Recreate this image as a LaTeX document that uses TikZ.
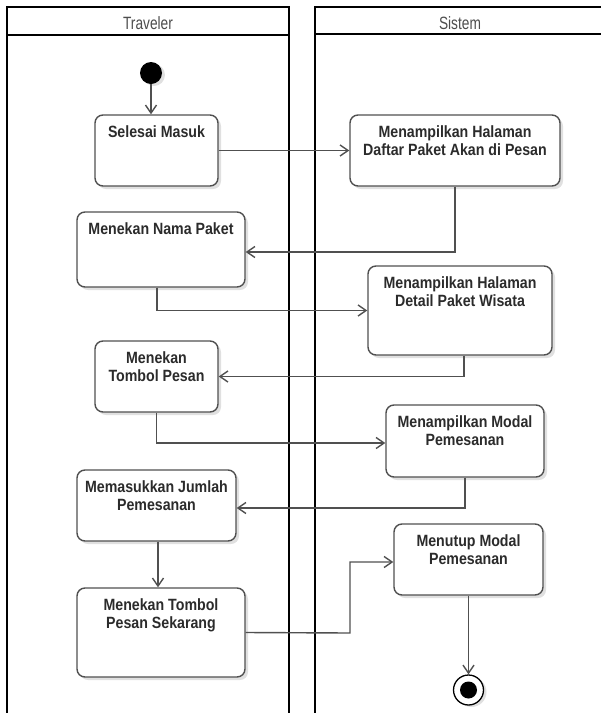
\documentclass[tikz,border=0pt]{standalone}
\usepackage{fontspec}
\setmainfont{Liberation Sans}
\newfontfamily\boxfont[FakeStretch=0.87]{Liberation Sans}
\newfontfamily\headfont[FakeStretch=0.77]{Liberation Sans}
\usetikzlibrary{arrows.meta,shadows}
\definecolor{linegray}{HTML}{505050}
\definecolor{txtgray}{HTML}{2B2B2B}
\definecolor{headgray}{HTML}{4D4D4D}
\begin{document}
\begin{tikzpicture}[x=1pt,y=-1pt,
  lane/.style={line width=1.8pt, draw=black},
  headtext/.style={font=\headfont\fontsize{17.8}{19}\selectfont, text=headgray, anchor=base, inner sep=0},
  act/.style={draw=linegray, line width=1.4pt, rounded corners=8pt, fill=white,
    drop shadow={shadow xshift=3pt, shadow yshift=-3pt, fill=black, opacity=0.12}, inner sep=0},
  acttext/.style={font=\boxfont\bfseries\fontsize{16.3}{17.5}\selectfont, text=txtgray, align=center, anchor=north, inner sep=0},
  flow/.style={draw=linegray, line width=1.4pt, -{Straight Barb[length=8pt,width=11pt]}},
]
\useasboundingbox (0,0) rectangle (601,713);
\fill[white] (0,0) rectangle (601,713);

% swimlanes
\draw[lane] (7,713) -- (7,7) -- (289,7) -- (289,713);
\draw[lane] (7,35) -- (289,35);
\draw[lane] (601,7) -- (315,7) -- (315,713);
\draw[lane] (315,34) -- (601,34);
\node[headtext] (trav) at (148,29.5) {Traveler};
\node[headtext] (sist) at (460,29.5) {Sistem};

% activity boxes
\node[act, minimum width=123pt, minimum height=71pt] (sm) at (156.5,150.5) {};
\node[act, minimum width=210pt, minimum height=71pt] (d1) at (455,150.5) {};
\node[act, minimum width=168pt, minimum height=75pt] (np) at (161,249.5) {};
\node[act, minimum width=184pt, minimum height=89pt] (d2) at (460,310.5) {};
\node[act, minimum width=123pt, minimum height=71pt] (tp) at (156.5,376.5) {};
\node[act, minimum width=158pt, minimum height=72pt] (mm) at (465,441) {};
\node[act, minimum width=159pt, minimum height=71pt] (mj) at (156.5,505.5) {};
\node[act, minimum width=168pt, minimum height=89pt] (ps) at (161,632.5) {};
\node[act, minimum width=149pt, minimum height=71pt] (mt) at (468.5,559.5) {};

% texts
\node[acttext] (smt) at ([yshift=-10.75pt]sm.north) {\strut Selesai Masuk};
\node[acttext] (d1t) at ([yshift=-10.75pt]d1.north) {\strut Menampilkan Halaman\\Daftar Paket Akan di Pesan};
\node[acttext] (npt) at ([yshift=-10.75pt]np.north) {\strut Menekan Nama Paket};
\node[acttext] (d2t) at ([yshift=-10.75pt]d2.north) {\strut Menampilkan Halaman\\Detail Paket Wisata};
\node[acttext] (tpt) at ([yshift=-10.75pt]tp.north) {\strut Menekan\\Tombol Pesan};
\node[acttext] (mmt) at ([yshift=-10.75pt]mm.north) {\strut Menampilkan Modal\\Pemesanan};
\node[acttext] (mjt) at ([yshift=-10.75pt]mj.north) {\strut Memasukkan Jumlah\\Pemesanan};
\node[acttext] (pst) at ([yshift=-10.75pt]ps.north) {\strut Menekan Tombol\\Pesan Sekarang};
\node[acttext] (mtt) at ([yshift=-10.75pt]mt.north) {\strut Menutup Modal\\Pemesanan};

% start and end
\node[circle, fill=black, minimum size=22pt, inner sep=0,
  drop shadow={shadow xshift=3pt, shadow yshift=-2pt, fill=black, opacity=0.12}] (start) at (151,73) {};
\node[circle, draw=black, line width=1.3pt, fill=white, minimum size=30pt, inner sep=0,
  drop shadow={shadow xshift=3pt, shadow yshift=-2pt, fill=black, opacity=0.12}] (end) at (468.5,690) {};
\node[circle, fill=black, minimum size=17pt, inner sep=0] (endin) at (end) {};

\coordinate (bend) at (350,633);

% connectors
\draw[flow] (start.south) -- (start.south |- sm.north);
\draw[flow] (sm.east) -- (d1.west);
\draw[flow] (d1.south) |- ([yshift=-2.5pt]np.east);
\draw[flow] ([xshift=-4pt]np.south) |- (d2.west);
\draw[flow] ([xshift=4pt]d2.south) |- (tp.east);
\draw[flow] (tp.south) |- ([yshift=-2pt]mm.west);
\draw[flow] (mm.south) |- ([yshift=-2.5pt]mj.east);
\draw[flow] ([xshift=1.5pt]mj.south) -- ([xshift=1.5pt]mj.south |- ps.north);
\draw[flow] (ps.east) -- (bend) |- ([yshift=-2.5pt]mt.west);
\draw[flow] (mt.south) -- (end.north);
\end{tikzpicture}
\end{document}
